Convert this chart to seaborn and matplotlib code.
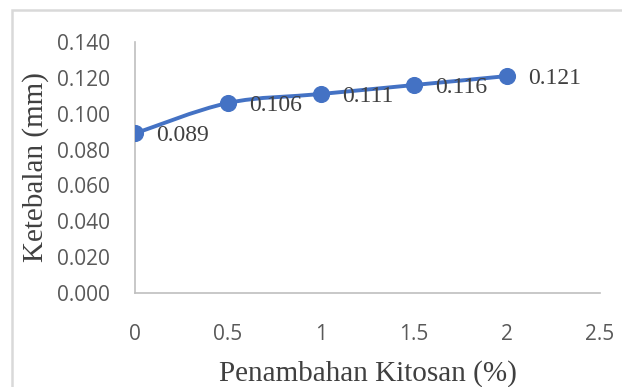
import seaborn as sns
import matplotlib.pyplot as plt
import pandas as pd
from matplotlib.path import Path
from matplotlib.patches import PathPatch, Rectangle

kitosan = [0, 0.5, 1, 1.5, 2]
ketebalan = [0.089, 0.106, 0.111, 0.116, 0.121]
x_ticks = [0, 0.5, 1, 1.5, 2, 2.5]
y_ticks = [0.000, 0.020, 0.040, 0.060, 0.080, 0.100, 0.120, 0.140]

df = pd.DataFrame({"Kitosan": kitosan, "Ketebalan": ketebalan})

sns.set_theme(style="white")
plt.rcParams["font.family"] = ["Open Sans", "DejaVu Sans"]
serif = ["Liberation Serif", "DejaVu Serif"]

blue = "#4472C4"
fig = plt.figure(figsize=(6.22, 3.87), dpi=100)
ax = fig.add_axes([135 / 622, 1 - 293 / 387, 465 / 622, 251 / 387])

# smooth line (Excel-like bezier through the points)
pts = list(zip(df["Kitosan"], df["Ketebalan"]))
verts = [pts[0]]
codes = [Path.MOVETO]
n = len(pts)
for i in range(n - 1):
    p0 = pts[i - 1] if i > 0 else pts[i]
    p1 = pts[i]
    p2 = pts[i + 1]
    p3 = pts[i + 2] if i + 2 < n else pts[i + 1]
    c1 = (p1[0] + (p2[0] - p0[0]) / 6, p1[1] + (p2[1] - p0[1]) / 6)
    c2 = (p2[0] - (p3[0] - p1[0]) / 6, p2[1] - (p3[1] - p1[1]) / 6)
    verts += [c1, c2, p2]
    codes += [Path.CURVE4] * 3
ax.add_patch(PathPatch(Path(verts, codes), facecolor="none", edgecolor=blue, lw=2.8, zorder=2))

sns.scatterplot(data=df, x="Kitosan", y="Ketebalan", color=blue, s=130, edgecolor=blue, zorder=3, ax=ax)

for xv, yv in zip(kitosan, ketebalan):
    ax.annotate(f"{yv:.3f}", (xv, yv), xytext=(15, -1.5), textcoords="offset points",
                va="center", ha="left", fontsize=17, color="#404040", family=serif)

ax.set_xlim(0, 2.5)
ax.set_ylim(0, 0.14)
ax.set_xticks(x_ticks)
ax.set_xticklabels([f"{t:g}" for t in x_ticks])
ax.set_yticks(y_ticks)
ax.set_yticklabels([f"{t:.3f}" for t in y_ticks])
ax.tick_params(axis="both", length=0, labelsize=15, labelcolor="#595959")
ax.tick_params(axis="y", pad=18)
ax.tick_params(axis="x", pad=22)

for side in ["top", "right"]:
    ax.spines[side].set_visible(False)
for side in ["left", "bottom"]:
    ax.spines[side].set_color("#BFBFBF")
    ax.spines[side].set_linewidth(1.2)

ax.set_xlabel("Penambahan Kitosan (%)", fontsize=21, color="#404040", family=serif, labelpad=11)
ax.set_ylabel("Ketebalan (mm)", fontsize=21, color="#404040", family=serif, labelpad=6)

fig.patches.append(Rectangle((12 / 622, -0.2), 1.2, 1.2 - 10 / 387, transform=fig.transFigure,
                             fill=False, edgecolor="#D9D9D9", lw=1.8, figure=fig))

plt.savefig("out.png", dpi=100)
